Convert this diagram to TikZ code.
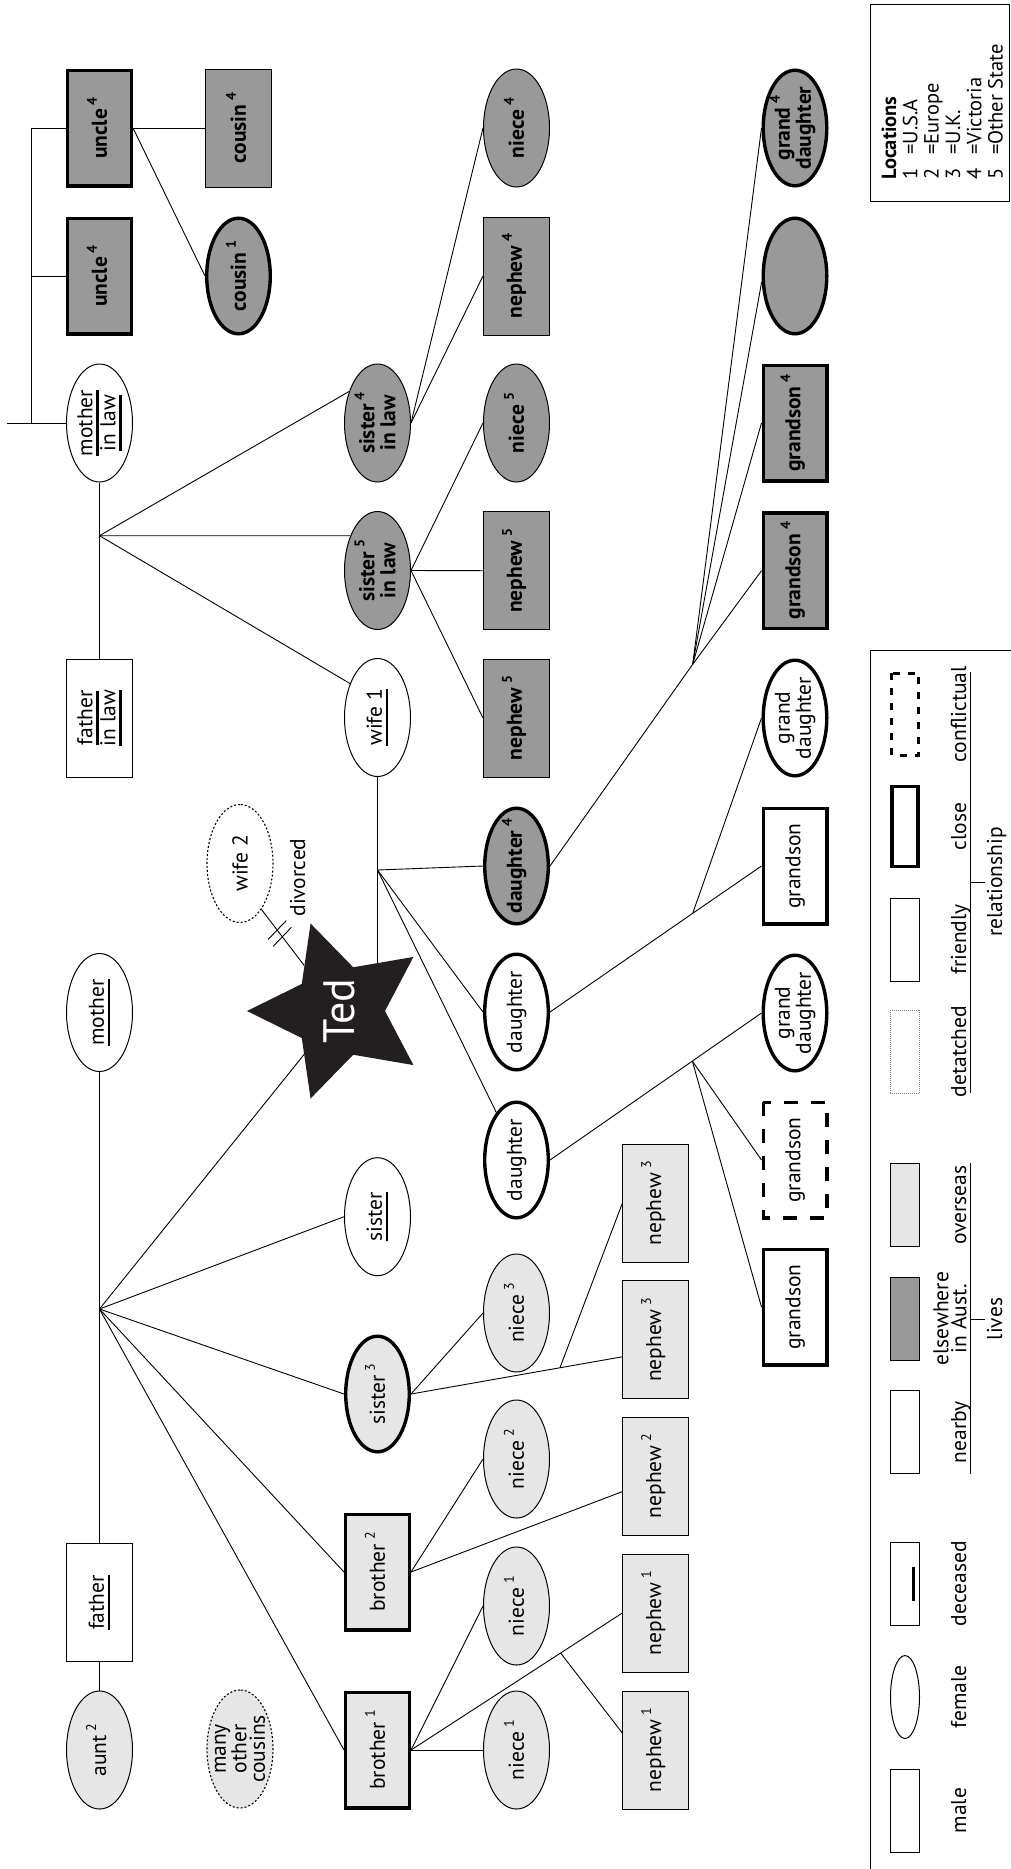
\documentclass[tikz,border=0pt]{standalone}
\usepackage{fontspec}
\setmainfont{PT Sans}
\usetikzlibrary{shapes.geometric,calc,decorations.markings}
\definecolor{dgray}{HTML}{999999}
\definecolor{lgray}{HTML}{E6E6E6}
\definecolor{starc}{HTML}{231F20}
\newsavebox\ulbox
\newcommand\ul[1]{\sbox\ulbox{#1}\rlap{\rule[-6.5pt]{\wd\ulbox}{2.4pt}}\usebox\ulbox}
\newcommand\lsup[1]{\hspace{4pt}\smash{\raisebox{10pt}{\fontsize{14}{14}\selectfont #1}}}
\pgfdeclarelayer{bg}
\pgfsetlayers{bg,main}
\begin{document}
\begin{tikzpicture}[x=1pt,y=-1pt,
  pnode/.style={rotate=90, inner sep=-16pt, align=center, font=\fontsize{21.5}{21}\selectfont, draw, line width=1pt},
  box/.style={pnode, rectangle, minimum width=118pt, minimum height=66pt},
  oval/.style={pnode, ellipse, minimum width=118pt, minimum height=66pt},
  closeb/.style={line width=3.4pt, minimum width=115.6pt, minimum height=63.6pt},
  livaway/.style={fill=dgray, font=\fontsize{21.5}{21}\selectfont\bfseries},
  livabroad/.style={fill=lgray},
  livnear/.style={fill=white},
  conflict/.style={closeb, dash pattern=on 14pt off 13pt},
  dotb/.style={dash pattern=on 2pt off 2pt, line width=1.1pt},
  conn/.style={line width=0.9pt},
  legbox/.style={rotate=90, draw, line width=1pt, minimum width=83pt, minimum height=29pt, inner sep=0pt},
  lab/.style={rotate=90, anchor=base, inner sep=0pt, font=\fontsize{21.5}{19}\selectfont},
]
\useasboundingbox (0,0) rectangle (1010,1869);

% column 1
\node[box, livaway, closeb] (uncleA) at (99.5,128) {uncle\lsup{4}};
\node[box, livaway, closeb] (uncleB) at (99.5,276) {uncle\lsup{4}};
\node[oval, livnear, font=\fontsize{21.5}{23}\selectfont] (mil) at (99.5,423) {\ul{mother}\\\ul{in law}};
\node[box, livnear, font=\fontsize{21.5}{23}\selectfont] (fil) at (99.5,718) {\ul{father}\\\ul{in law}};
\node[oval, livnear] (mother) at (99.5,1012.5) {\ul{mother}};
\node[box, livnear] (father) at (99.5,1602.5) {\ul{father}};
\node[oval, livabroad] (aunt) at (99.5,1750) {aunt\lsup{2}};

% column 2
\node[box, livaway] (cousinB) at (238.5,128) {cousin\lsup{4}};
\node[oval, livaway, closeb] (cousinA) at (238.5,276) {cousin\lsup{1}};
\node[oval, livnear, dotb] (wife2) at (240,863.5) {wife 2};
\node[oval, livabroad, dotb, font=\fontsize{21.5}{18.5}\selectfont] (many) at (240,1749) {many\\other\\cousins};
\node[lab] (divtext) at (305,877.5) {divorced};

% column 3
\node[oval, livaway] (sil4) at (377.5,423) {sister\lsup{4}\\in law};
\node[oval, livaway] (sil5) at (377.5,570.5) {sister\lsup{5}\\in law};
\node[oval, livnear] (wife1) at (377.5,717.5) {\ul{wife 1}};
\node[star, star points=5, star point ratio=2, minimum size=184pt, inner sep=0pt, fill=starc, rotate=90, text=white, font=\fontsize{44}{44}\selectfont] (Ted) at (339,1011) {Ted};
\node[oval, livnear] (sister) at (377.5,1216.7) {\ul{sister}};
\node[oval, livabroad, closeb] (sister3) at (377.5,1394) {sister\lsup{3}};
\node[box, livabroad, closeb] (bro2) at (377.5,1572) {brother\lsup{2}};
\node[box, livabroad, closeb] (bro1) at (377.5,1750) {brother\lsup{1}};

% column 4
\node[oval, livaway] (niece4) at (516.5,128) {niece\lsup{4}};
\node[box, livaway] (nephew4) at (516.5,276) {nephew\lsup{4}};
\node[oval, livaway] (niece5) at (516.5,423) {niece\lsup{5}};
\node[box, livaway] (nephew5a) at (516.5,570.7) {nephew\lsup{5}};
\node[box, livaway] (nephew5b) at (516.5,718) {nephew\lsup{5}};
\node[oval, livaway, closeb] (dau4) at (516.5,866) {daughter\lsup{4}};
\node[oval, livnear, closeb] (dauA) at (516.5,1012) {daughter};
\node[oval, livnear, closeb] (dauB) at (516.5,1160) {daughter};
\node[oval, livabroad] (niece3) at (516.5,1313) {niece\lsup{3}};
\node[oval, livabroad] (niece2) at (516.5,1459) {niece\lsup{2}};
\node[oval, livabroad] (niece1a) at (516.5,1606) {niece\lsup{1}};
\node[oval, livabroad] (niece1b) at (516.5,1750) {niece\lsup{1}};

% column 5
\node[box, livabroad] (nephew3a) at (655.8,1203.3) {nephew\lsup{3}};
\node[box, livabroad] (nephew3b) at (655.8,1339.7) {nephew\lsup{3}};
\node[box, livabroad] (nephew2) at (655.8,1476) {nephew\lsup{2}};
\node[box, livabroad] (nephew1a) at (655.8,1613) {nephew\lsup{1}};
\node[box, livabroad] (nephew1b) at (655.8,1750) {nephew\lsup{1}};

% column 6
\node[oval, livaway, closeb] (gd4) at (795,128) {grand\lsup{4}\\daughter};
\node[oval, livaway, closeb] (blank) at (795,276) {};
\node[box, livaway, closeb] (gs4a) at (795,423) {grandson\lsup{4}};
\node[box, livaway, closeb] (gs4b) at (795,570.7) {grandson\lsup{4}};
\node[oval, livnear, closeb] (gdA) at (795,718) {grand\\daughter};
\node[box, livnear, closeb] (gsA) at (795,866) {grandson};
\node[oval, livnear, closeb] (gdB) at (795,1013) {grand\\daughter};
\node[box, livnear, conflict] (gsD) at (795,1160) {grandson};
\node[box, livnear, closeb] (gsB) at (795,1307) {grandson};

% locations box
\draw[line width=1pt] (870.7,4.7) rectangle (1009.2,201);
\node[rotate=90, anchor=north west, inner sep=0pt, font=\fontsize{20.5}{21.3}\selectfont] (locs) at (881,180)
  {\begin{tabular}{@{}l@{\hspace{14pt}}l@{}}\multicolumn{2}{@{}l}{\bfseries Locations}\\
   1&=U.S.A\\ 2&=Europe\\ 3&=U.K.\\ 4&=Victoria\\ 5&=Other State\end{tabular}};

% legend
\draw[line width=1pt] (1012,650.7) -- (870.7,650.7) -- (870.7,1872);
\node[legbox, dash pattern=on 7pt off 8pt, line width=3pt, minimum width=82pt, minimum height=27pt] (lconf) at (905,714.3) {};
\node[legbox, line width=3.2pt, minimum width=80pt, minimum height=26pt] (lclose) at (905,826.5) {};
\node[legbox] (lfriend) at (905,939.5) {};
\node[legbox, draw=gray, line width=0.7pt, dash pattern=on 1pt off 1pt] (ldet) at (905,1051.5) {};
\node[legbox, fill=lgray] (lover) at (905,1205.3) {};
\node[legbox, fill=dgray] (lelse) at (905,1318.7) {};
\node[legbox] (lnear) at (905,1432) {};
\node[legbox] (ldec) at (905,1583.7) {};
\node[legbox, ellipse] (lfem) at (905,1697) {};
\node[legbox] (lmale) at (905,1810.5) {};
\draw[line width=2.6pt] ($(ldec.center)+(8.3,-17)$) -- ($(ldec.center)+(8.3,17)$);

\node[lab] (tconf) at (966,714.3) {conflictual};
\node[lab] (tclose) at (966,826.5) {close};
\node[lab] (tfriend) at (966,939.5) {friendly};
\node[lab] (tdet) at (966,1051.5) {detatched};
\node[lab] (tover) at (966,1205.3) {overseas};
\node[rotate=90, inner sep=0pt, align=center, font=\fontsize{21.5}{18}\selectfont] (telse) at (950,1318.7) {elsewhere\\in Aust.};
\node[lab] (tnear) at (966,1432) {nearby};
\node[lab] (tdec) at (966,1583.7) {deceased};
\node[lab] (tfem) at (966,1697) {female};
\node[lab] (tmale) at (966,1810.5) {male};
\node[lab] (trel) at (1002,882) {relationship};
\node[lab] (tlives) at (1002,1319) {lives};
\coordinate (rx) at (970.7,0);
\draw[conn] (lconf.east -| rx) -- (ldet.west -| rx);
\draw[conn] (trel.base -| rx) -- ++(14,0);
\draw[conn] (lover.east -| rx) -- (lnear.west -| rx);
\draw[conn] (tlives.base -| rx) -- ++(14,0);

\begin{pgfonlayer}{bg}
\coordinate (jl) at (31.3,423);
\coordinate (jstub) at (7,423);
\draw[conn] (uncleA.north) -| (jl);
\draw[conn] (uncleB.north) -- (uncleB.north -| jl);
\draw[conn] (jstub) -- (mil.north);
\draw[conn] (uncleA.south) -- (cousinB.north);
\draw[conn] (uncleA.south) -- (cousinA.north);

\draw[conn] (mil.west) -- (fil.east);
\coordinate (jfil) at (99.5,535.7);
\draw[conn] (jfil) -- (sil4.42);
\draw[conn] (jfil) -- (sil5.38);
\draw[conn] (jfil) -- (wife1.39);
\draw[conn] (sil4.south) -- (niece4.north);
\draw[conn] (sil4.south) -- (nephew4.north);
\draw[conn] (sil5.south) -- (niece5.north);
\draw[conn] (sil5.south) -- (nephew5a.north);
\draw[conn] (sil5.south) -- (nephew5b.north);

\coordinate (jw) at (377.5,870);
\draw[conn] (wife1.west) -- (wife1.west |- Ted.center);
\draw[conn] (jw) -- (dau4.north);
\draw[conn] (jw) -- (dauA.north);
\draw[conn] (jw) -- (dauB.23);

\coordinate (h1) at (692.7,664.3);
\draw[conn] (dau4.south) -- (h1);
\draw[conn] (h1) -- (gd4.north);
\draw[conn] (h1) -- (blank.100);
\draw[conn] (h1) -- (gs4a.north);
\draw[conn] (h1) -- (gs4b.north);

\coordinate (h2) at (692.7,913.3);
\draw[conn] (dauA.south) -- (h2) -- (gsA.north);
\draw[conn] (h2) -- (gdA.north);

\draw[conn] (dauB.south) -- (gdB.north);
\coordinate (h3) at ($(dauB.south)!0.673!(gdB.north)$);
\draw[conn] (h3) -- (gsD.north);
\draw[conn] (h3) -- (gsB.north);

\draw[conn, postaction={decorate}, decoration={markings,
   mark=at position 26pt with {\draw[conn] (-2,-13) -- (2,13);},
   mark=at position 34.5pt with {\draw[conn] (-2,-13) -- (2,13);}}]
   (wife2.205) -- (Ted);

\coordinate (jm) at (99.5,1309);
\draw[conn] (mother.west) -- (father.east);
\draw[conn] (father.west) -- (aunt.east);
\draw[conn] (jm) -- (Ted.center);
\draw[conn] (jm) -- (sister.north);
\draw[conn] (jm) -- (sister3.north);
\draw[conn] (jm) -- (bro2.north);
\draw[conn] (jm) -- (bro1.north);

\draw[conn] (sister3.south) -- (niece3.north);
\draw[conn] (sister3.south) -- (nephew3b.117);
\coordinate (j3) at ($(sister3.south)!0.705!(nephew3b.117)$);
\draw[conn] (j3) -- (nephew3a.north);

\draw[conn] (bro2.south) -- (niece2.north);
\draw[conn] (bro2.south) -- (nephew2.115);
\draw[conn] (bro1.south) -- (niece1b.north);
\draw[conn] (bro1.south) -- (niece1a.north);
\draw[conn] (bro1.south) -- (nephew1a.north);
\coordinate (j1) at ($(bro1.south)!0.708!(nephew1a.north)$);
\draw[conn] (j1) -- (nephew1b.63);
\end{pgfonlayer}
\end{tikzpicture}
\end{document}
